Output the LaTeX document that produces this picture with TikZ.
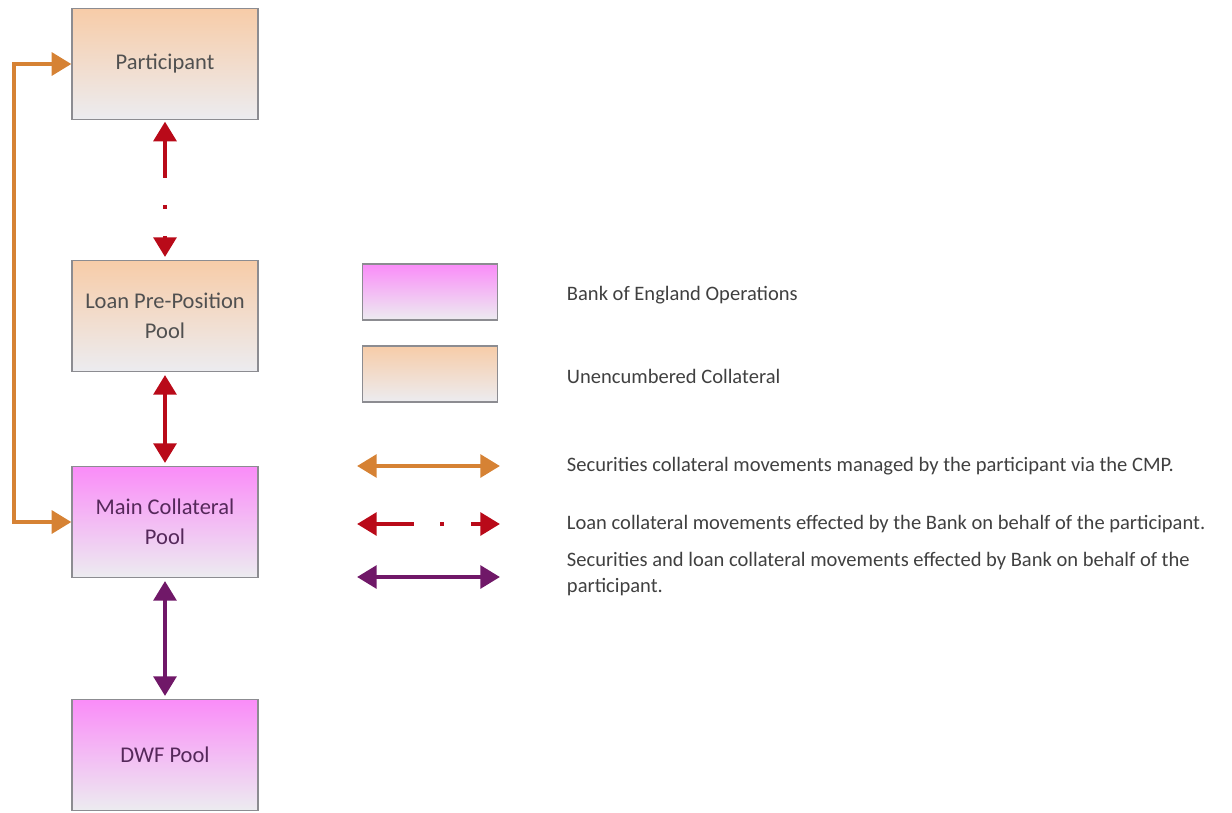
\documentclass[tikz,border=0pt]{standalone}
\usepackage{fontspec}
\setmainfont{Carlito}
\usetikzlibrary{arrows.meta}
\definecolor{boxline}{RGB}{140,140,145}
\definecolor{boxgrey}{RGB}{236,236,240}
\definecolor{pinktop}{RGB}{250,140,248}
\definecolor{peachtop}{RGB}{247,204,168}
\definecolor{boetext}{RGB}{85,40,90}
\definecolor{unctext}{RGB}{80,80,80}
\definecolor{legtext}{RGB}{64,64,64}
\definecolor{orangeln}{RGB}{214,130,52}
\definecolor{redln}{RGB}{185,10,25}
\definecolor{purpleln}{RGB}{112,24,104}
\begin{document}
\begin{tikzpicture}[x=0.025cm,y=-0.025cm,
                    pool/.style={draw=boxline,line width=0.8pt,minimum width=4.65cm,minimum height=2.78cm,align=center,font=\fontsize{16}{21}\selectfont},
                    boepool/.style={pool,top color=pinktop,middle color=pinktop!40!boxgrey,bottom color=boxgrey,text=boetext},
                    uncpool/.style={pool,top color=peachtop,middle color=peachtop!40!boxgrey,bottom color=boxgrey,text=unctext},
                    legbox/.style={minimum width=3.375cm,minimum height=1.4cm},
                    legtxt/.style={anchor=west,align=left,text=legtext,font=\fontsize{14.6}{18}\selectfont},
                    lnk/.style={line width=3.2pt,{Triangle[length=14pt,width=16pt]}-{Triangle[length=14pt,width=16pt]}},
                    orangelnk/.style={lnk,draw=orangeln},
                    redlnk/.style={lnk,draw=redln},
                    dashdotlnk/.style={redlnk,dash pattern=on 27pt off 19pt on 3pt off 19pt},
                    purplelnk/.style={lnk,draw=purpleln}]
                    \useasboundingbox (0,0) rectangle (1232,812);
                    \node[uncpool] (part) at (165,64){Participant};
                    \node[uncpool] (lpp) at (165,316){Loan Pre-Position\\Pool};
                    \node[boepool] (mcp) at (165,522){Main Collateral\\Pool};
                    \node[boepool] (dwf) at (165,755){DWF Pool};

                    \node[boepool,legbox] (legboe) at (430,292){};
                    \node[uncpool,legbox] (legunc) at (430,374){};
                    \node[legtxt] (txtboe) at (562,295){Bank of England Operations};
                    \node[legtxt] (txtunc) at (562,376){Unencumbered Collateral};
                    \node[legtxt] (txtsec) at (562,466){Securities collateral movements managed by the participant via the CMP.};
                    \node[legtxt] (txtloan) at (562,524){Loan collateral movements effected by the Bank on behalf of the participant.};
                    \node[legtxt] (txtboth) at (562,574){Securities and loan collateral movements effected by Bank on behalf of the\\participant.};

                    \coordinate (loop) at (14,64);
                    \coordinate (seca) at (357,466);
                    \coordinate (secb) at (500,466);
                    \coordinate (loana) at (357,524);
                    \coordinate (loanb) at (500,524);
                    \coordinate (botha) at (357,577);
                    \coordinate (bothb) at (500,577);

                    \draw[orangelnk] (part.west) -- (loop) |- (mcp.west);
                    \draw[dashdotlnk,shorten <=1pt,shorten >=2pt] (part) -- (lpp);
                    \draw[redlnk,shorten <=2pt,shorten >=2pt] (lpp) -- (mcp);
                    \draw[purplelnk,shorten <=2pt,shorten >=2pt] (mcp) -- (dwf);

                    \draw[orangelnk] (seca) -- (secb);
                    \draw[dashdotlnk] (loana) -- (loanb);
                    \draw[purplelnk] (botha) -- (bothb);
                \end{tikzpicture}
\end{document}
